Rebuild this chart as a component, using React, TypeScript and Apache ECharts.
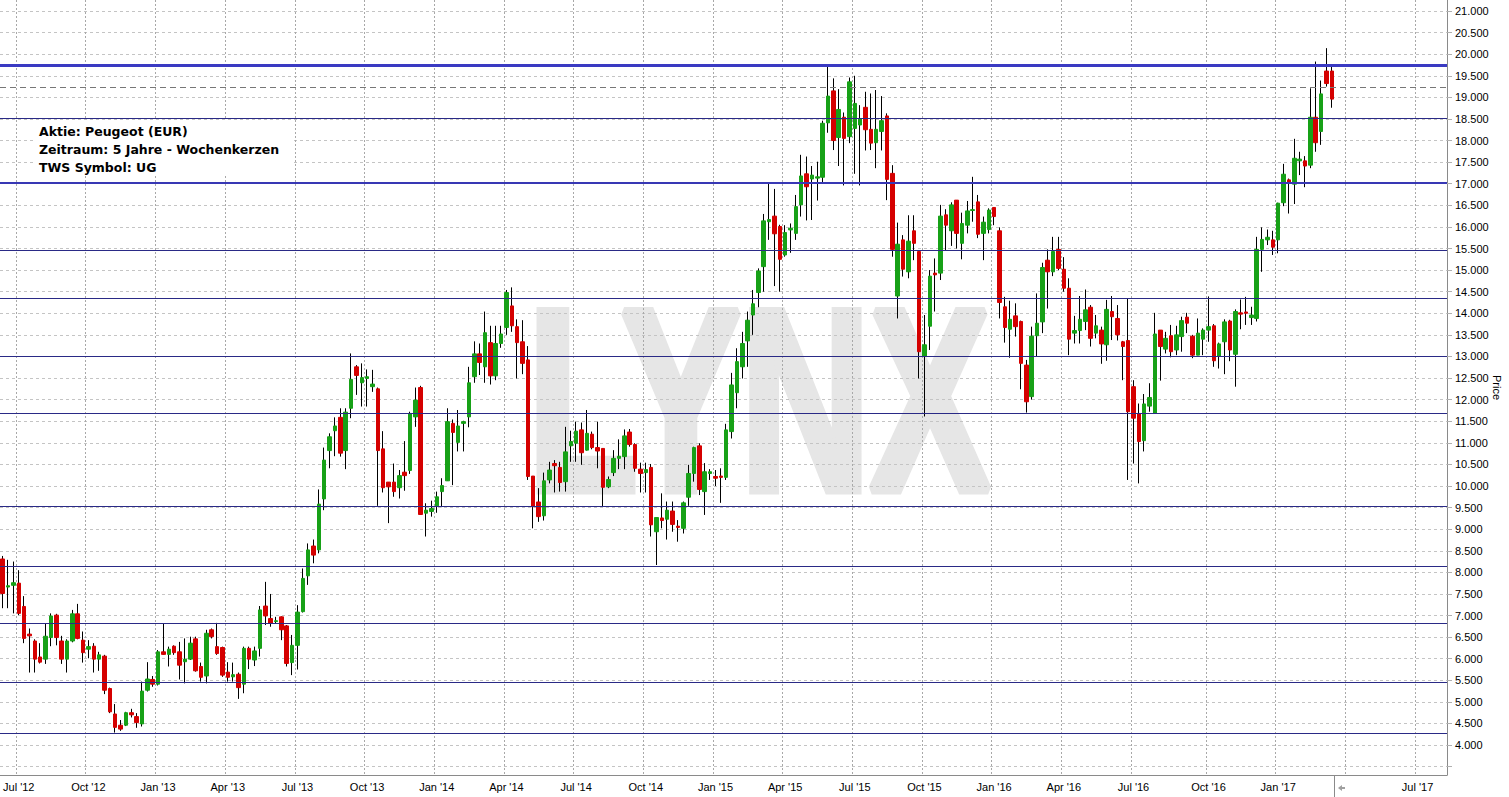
import React, { useEffect, useRef } from 'react';
import * as echarts from 'echarts';

// Weekly candles, each [open, close, low, high]; first week ends Fri 2012-06-15
const FIRST_WEEK = { y: 2012, m: 5, d: 15 };
const WEEKS_ON_AXIS = 270;

const ohlc2012 = [
  [8.31, 7.51, 7.17, 8.38], [7.66, 7.69, 7.17, 8.29], [7.70, 7.76, 7.05, 8.25], [7.75, 7.05, 7.01, 8.05],
  [7.21, 6.47, 6.36, 7.45], [6.57, 6.53, 5.68, 6.70], [6.41, 5.99, 5.68, 6.45], [6.04, 5.92, 5.89, 6.36],
  [5.99, 6.52, 5.88, 6.82], [6.49, 6.99, 6.29, 7.05], [7.01, 6.49, 6.31, 7.04], [6.41, 5.99, 5.88, 6.53],
  [5.99, 6.41, 5.68, 6.45], [6.41, 7.04, 6.38, 7.13], [7.04, 6.47, 6.45, 7.27], [6.43, 6.14, 5.91, 6.63],
  [6.22, 6.28, 6.01, 6.43], [6.29, 5.99, 5.68, 6.36], [5.99, 6.09, 5.72, 6.16], [6.06, 5.27, 5.18, 6.09],
  [5.31, 4.77, 4.74, 5.33], [4.72, 4.41, 4.29, 4.95], [4.46, 4.37, 4.33, 4.58], [4.46, 4.75, 4.44, 4.77],
  [4.75, 4.70, 4.64, 4.84], [4.66, 4.52, 4.40, 4.74], [4.49, 5.25, 4.43, 5.47], [5.27, 5.53, 5.24, 5.92],
  [5.52, 5.41, 5.35, 5.60],
];
const ohlc2013 = [
  [5.41, 6.16, 5.38, 6.20], [6.16, 6.10, 6.09, 6.82], [6.10, 6.22, 5.82, 6.28], [6.29, 6.14, 6.09, 6.31],
  [6.16, 5.85, 5.52, 6.39], [5.93, 5.99, 5.43, 6.47], [5.99, 6.36, 5.97, 6.51], [6.46, 5.72, 5.70, 6.51],
  [5.82, 5.57, 5.47, 5.91], [5.60, 6.59, 5.43, 6.67], [6.67, 6.51, 6.47, 6.70], [6.28, 6.12, 6.09, 6.83],
  [6.26, 5.62, 5.58, 6.28], [5.69, 5.57, 5.47, 5.92], [5.58, 5.63, 5.47, 5.91], [5.64, 5.33, 5.07, 5.68],
  [5.41, 6.24, 5.20, 6.28], [6.24, 5.99, 5.76, 6.28], [5.97, 6.18, 5.83, 6.28], [6.24, 7.13, 6.05, 7.22],
  [7.22, 6.99, 6.78, 7.78], [6.93, 6.82, 6.74, 7.50], [6.86, 6.88, 6.82, 6.97], [6.97, 6.67, 6.43, 6.98],
  [6.76, 5.89, 5.82, 6.78], [5.91, 6.31, 5.62, 6.55], [6.31, 7.08, 5.75, 7.24], [7.09, 7.86, 7.07, 8.09],
  [7.92, 8.52, 7.71, 8.67], [8.61, 8.40, 8.21, 8.76], [8.52, 9.58, 8.44, 9.92], [9.70, 10.60, 9.44, 10.89],
  [10.82, 11.14, 10.41, 11.22], [11.28, 11.39, 10.69, 11.59], [11.59, 10.76, 10.68, 11.80], [10.82, 11.71, 10.39, 11.80],
  [11.80, 12.47, 11.57, 13.07], [12.76, 12.56, 12.11, 12.80], [12.39, 12.51, 11.84, 12.84], [12.49, 12.53, 11.84, 12.70],
  [12.30, 12.36, 12.18, 12.69], [12.25, 10.82, 9.54, 12.28], [10.86, 9.96, 9.85, 11.27], [10.09, 9.98, 9.14, 10.09],
  [10.09, 9.87, 9.75, 10.52], [9.96, 10.24, 9.71, 10.37], [10.32, 10.24, 9.89, 11.04], [10.36, 11.68, 10.28, 11.72],
  [11.60, 11.99, 11.37, 12.28], [12.28, 9.34, 9.33, 12.32], [9.37, 9.44, 8.83, 9.60], [9.41, 9.48, 9.29, 9.66],
];
const ohlc2014 = [
  [9.54, 9.75, 9.38, 9.87], [9.87, 10.01, 9.51, 10.18], [10.12, 11.49, 10.12, 11.80], [11.45, 11.24, 10.02, 11.54],
  [11.01, 11.39, 10.80, 11.76], [11.45, 11.49, 10.80, 11.51], [11.60, 12.39, 11.36, 12.76], [12.53, 13.06, 12.39, 13.35],
  [13.06, 12.86, 12.57, 13.30], [12.76, 13.55, 12.39, 14.04], [13.32, 12.55, 12.35, 13.71], [12.55, 13.30, 12.45, 13.71],
  [13.30, 13.52, 13.20, 13.71], [13.67, 14.48, 13.50, 14.54], [14.17, 13.71, 13.57, 14.60], [13.69, 13.32, 12.49, 13.86],
  [13.34, 12.84, 12.59, 13.84], [12.92, 10.22, 10.14, 13.24], [10.23, 9.52, 9.02, 10.23], [9.63, 9.29, 9.17, 9.95],
  [9.31, 10.12, 9.20, 10.31], [10.14, 10.37, 10.06, 10.56], [10.52, 10.47, 9.85, 10.60], [10.43, 10.08, 9.87, 10.56],
  [10.10, 10.79, 9.87, 11.37], [10.93, 11.03, 10.56, 11.28], [10.99, 11.27, 10.56, 11.49], [11.30, 10.77, 10.49, 11.47],
  [10.83, 11.22, 10.82, 11.76], [11.20, 10.89, 10.85, 11.26], [10.89, 10.81, 10.41, 11.49], [10.87, 9.97, 9.52, 10.87],
  [9.98, 10.15, 9.95, 10.22], [10.31, 10.64, 10.23, 10.83], [10.64, 10.69, 10.39, 11.08], [10.68, 11.16, 10.39, 11.31],
  [11.25, 10.96, 10.91, 11.32], [10.96, 10.41, 10.33, 10.99], [10.39, 10.29, 9.85, 10.54], [10.31, 10.38, 9.85, 10.54],
  [10.43, 9.10, 8.83, 10.51], [8.94, 9.27, 8.17, 9.27], [9.26, 9.20, 9.02, 9.83], [9.23, 9.44, 8.76, 9.64],
  [9.42, 9.11, 8.94, 9.64], [9.07, 9.04, 8.71, 9.21], [9.02, 9.61, 8.90, 9.64], [9.74, 10.29, 9.54, 10.49],
  [10.29, 10.89, 10.10, 10.91], [10.93, 9.92, 9.79, 10.99], [9.87, 10.33, 9.33, 10.53], [10.29, 10.33, 10.14, 10.39],
];
const ohlc2015 = [
  [10.22, 10.18, 10.00, 10.37], [10.23, 10.20, 9.61, 10.41], [10.20, 11.30, 10.14, 11.44], [11.26, 12.34, 11.10, 12.62],
  [12.16, 12.88, 11.80, 13.19], [12.76, 13.30, 12.49, 13.57], [13.36, 13.84, 12.76, 14.04], [13.96, 14.22, 13.50, 14.54],
  [14.48, 14.98, 14.14, 15.04], [15.08, 16.14, 14.50, 16.30], [16.12, 16.17, 15.70, 17.01], [16.25, 15.84, 14.63, 16.88],
  [16.01, 15.25, 14.50, 16.05], [15.35, 15.87, 15.31, 16.04], [15.93, 15.97, 15.40, 16.08], [15.85, 16.47, 15.70, 16.74],
  [16.51, 17.18, 16.24, 17.67], [17.23, 16.93, 16.15, 17.63], [17.11, 17.20, 16.16, 17.41], [17.13, 17.16, 16.61, 17.51],
  [17.15, 18.40, 17.03, 18.46], [18.41, 19.03, 18.18, 19.73], [19.15, 18.00, 17.78, 19.44], [18.07, 18.72, 17.41, 19.19],
  [18.54, 18.05, 16.96, 18.65], [18.09, 19.36, 17.94, 19.46], [18.28, 18.86, 17.23, 19.50], [18.36, 18.51, 16.96, 18.82],
  [18.77, 18.25, 17.77, 19.13], [18.26, 17.94, 17.78, 19.09], [17.95, 18.26, 17.36, 19.17], [18.21, 18.46, 17.77, 19.03],
  [18.57, 17.10, 16.62, 18.63], [17.24, 15.48, 15.31, 17.43], [14.40, 15.60, 13.88, 16.10], [15.70, 15.02, 14.85, 15.81],
  [14.96, 15.67, 14.81, 16.27], [15.91, 15.62, 15.23, 16.27], [15.43, 13.11, 12.49, 15.46], [13.01, 13.27, 11.61, 13.96],
  [13.70, 14.86, 13.15, 15.00], [14.93, 14.89, 14.04, 15.27], [14.93, 16.25, 14.77, 16.51], [16.28, 16.04, 15.46, 16.41],
  [15.91, 16.51, 15.56, 16.57], [16.62, 15.85, 15.50, 16.62], [15.62, 16.08, 15.25, 16.33], [16.04, 16.37, 15.85, 16.60],
  [16.38, 16.40, 16.12, 17.16], [16.58, 15.83, 15.74, 16.74], [15.85, 16.11, 15.23, 16.24], [15.94, 16.39, 15.85, 16.43],
];
const ohlc2016 = [
  [16.45, 16.24, 16.04, 16.45], [15.91, 14.25, 13.88, 15.99], [14.15, 13.67, 13.32, 14.38], [13.63, 13.86, 12.97, 14.29],
  [13.94, 13.69, 13.46, 14.23], [13.81, 12.84, 12.24, 13.83], [12.80, 11.95, 11.70, 12.92], [12.07, 13.47, 12.00, 13.69],
  [13.48, 13.77, 13.01, 14.46], [13.80, 15.06, 13.54, 15.17], [15.23, 14.96, 14.11, 15.48], [14.96, 15.43, 14.86, 15.77],
  [15.48, 15.04, 15.00, 15.77], [15.02, 14.58, 14.50, 15.30], [14.58, 13.40, 13.03, 14.81], [13.54, 13.60, 13.30, 13.94],
  [13.60, 13.86, 13.30, 14.40], [13.81, 14.08, 13.61, 14.55], [14.14, 13.42, 13.23, 14.19], [13.54, 13.71, 13.42, 13.96],
  [13.61, 13.29, 12.83, 13.69], [13.27, 14.09, 12.90, 14.31], [14.04, 13.92, 13.38, 14.40], [13.88, 13.50, 13.37, 14.19],
  [13.34, 13.23, 12.45, 13.36], [13.37, 11.72, 10.14, 14.35], [12.30, 11.57, 10.52, 12.45], [11.68, 11.03, 10.06, 11.91],
  [11.05, 11.90, 10.80, 12.13], [11.85, 12.05, 11.72, 12.38], [11.68, 13.52, 11.68, 14.01], [13.61, 13.23, 12.44, 13.61],
  [13.17, 13.42, 13.07, 13.57], [13.48, 13.11, 12.98, 13.73], [13.15, 13.50, 13.03, 13.71], [13.46, 13.83, 13.11, 13.92],
  [13.91, 13.77, 13.54, 14.01], [13.47, 13.03, 12.96, 13.50], [13.03, 13.54, 13.03, 13.88], [13.40, 13.61, 13.03, 13.65],
  [13.61, 13.69, 13.34, 14.39], [13.71, 12.90, 12.76, 13.75], [13.00, 13.29, 12.72, 13.32], [13.34, 13.80, 12.59, 13.86],
  [13.82, 13.15, 12.89, 13.85], [13.05, 14.04, 12.30, 14.09], [14.01, 13.98, 13.63, 14.32], [14.03, 14.00, 13.73, 14.38],
  [13.90, 13.96, 13.73, 14.15], [13.88, 15.48, 13.81, 15.77], [15.48, 15.71, 14.96, 15.99], [15.70, 15.76, 15.58, 15.94],
  [15.70, 15.53, 15.35, 15.91],
];
const ohlc2017 = [
  [15.70, 16.55, 15.39, 16.56], [16.56, 17.22, 16.48, 17.46], [17.09, 17.03, 16.31, 17.12], [16.99, 17.59, 16.53, 18.04],
  [17.53, 17.57, 17.20, 17.74], [17.53, 17.41, 16.92, 17.64], [17.43, 18.54, 17.36, 19.21], [18.54, 17.95, 17.74, 19.83],
  [18.21, 19.08, 17.90, 19.39], [19.61, 19.32, 19.25, 20.14], [19.61, 18.96, 18.76, 19.75],
];

// Horizontal drawn levels
const resistanceLevel = 19.75;
const currentPriceLevel = 19.23;
const strongLevels = [17.03];
const levels = [18.52, 15.47, 14.35, 13.01, 11.69, 9.54, 8.15, 6.83, 5.46, 4.28];

// Price axis
const Y_MIN = 3.307;
const Y_MAX = 21.255;
const yTickValues = [3.5, 4, 4.5, 5, 5.5, 6, 6.5, 7, 7.5, 8, 8.5, 9, 9.5, 10, 10.5, 11, 11.5, 12, 12.5, 13,
  13.5, 14, 14.5, 15, 15.5, 16, 16.5, 17, 17.5, 18, 18.5, 19, 19.5, 20, 20.5, 21];
const yLabelValues = [4, 4.5, 5, 5.5, 6, 6.5, 7, 7.5, 8, 8.5, 9, 9.5, 10, 10.5, 11, 11.5, 12, 12.5, 13,
  13.5, 14, 14.5, 15, 15.5, 16, 16.5, 17, 17.5, 18, 18.5, 19, 19.5, 20, 20.5, 21];

const MONTHS = ['Jan', 'Feb', 'Mar', 'Apr', 'May', 'Jun', 'Jul', 'Aug', 'Sep', 'Oct', 'Nov', 'Dec'];
const hiddenQuarterLabels = ['2017-04-07'];

const infoLines = ['Aktie: Peugeot (EUR)', 'Zeitraum: 5 Jahre - Wochenkerzen', 'TWS Symbol: UG'];

function buildCategories(): string[] {
  const out: string[] = [];
  for (let i = 0; i < WEEKS_ON_AXIS; i++) {
    const d = new Date(Date.UTC(FIRST_WEEK.y, FIRST_WEEK.m, FIRST_WEEK.d + 7 * i));
    out.push(d.toISOString().slice(0, 10));
  }
  return out;
}

function isQuarterStart(v: string): boolean {
  const m = +v.slice(5, 7);
  const d = +v.slice(8, 10);
  return d <= 7 && (m - 1) % 3 === 0;
}

export default function App() {
  const ref = useRef<HTMLDivElement>(null);

  useEffect(() => {
    document.body.style.margin = '0';
    if (!ref.current) return;
    const chart = echarts.init(ref.current, null, { renderer: 'svg' });

    const ohlc = [...ohlc2012, ...ohlc2013, ...ohlc2014, ...ohlc2015, ...ohlc2016, ...ohlc2017];
    const bodies = ohlc.map(([o, c]) => [o, c, Math.min(o, c), Math.max(o, c)]);
    const categories = buildCategories();

    const thinStyle = { color: '#2a2a86', width: 1, type: 'solid' };
    const markData: any[] = [
      ...levels.map((v) => ({ yAxis: v, lineStyle: thinStyle })),
      ...strongLevels.map((v) => ({ yAxis: v, lineStyle: { color: '#3838b4', width: 2, type: 'solid' } })),
      { yAxis: resistanceLevel, lineStyle: { color: '#3a3ac2', width: 3, type: 'solid' } },
      { yAxis: currentPriceLevel, lineStyle: { color: '#777', width: 1, type: [6, 4] } },
    ];

    const font = '"Liberation Sans", Arial, sans-serif';
    const boldFont = '"DejaVu Sans", Verdana, sans-serif';

    chart.setOption({
      animation: false,
      backgroundColor: '#ffffff',
      grid: { left: 0, right: 62, top: 0, bottom: 22, containLabel: false, outerBoundsMode: 'none' },
      xAxis: {
        type: 'category',
        data: categories,
        boundaryGap: true,
        axisLine: { show: true, lineStyle: { color: '#8a8a8a', width: 1 } },
        axisTick: { show: false },
        axisLabel: {
          interval: (_i: number, v: string) => isQuarterStart(v) && !hiddenQuarterLabels.includes(v),
          formatter: (v: string) => MONTHS[+v.slice(5, 7) - 1] + " '" + v.slice(2, 4),
          color: '#000',
          fontSize: 11,
          fontFamily: font,
          margin: 6,
          hideOverlap: false,
        },
        splitLine: {
          show: true,
          interval: (_i: number, v: string) => isQuarterStart(v),
          lineStyle: { color: '#a8a8a8', width: 1, type: [2, 2] },
        },
      },
      yAxis: {
        type: 'value',
        position: 'right',
        min: Y_MIN,
        max: Y_MAX,
        scale: true,
        name: 'Price',
        nameLocation: 'middle',
        nameRotate: -90,
        nameGap: 44,
        nameMoveOverlap: false,
        nameTextStyle: { color: '#000', fontSize: 11, fontFamily: font },
        axisLine: { show: true, lineStyle: { color: '#8a8a8a', width: 1 } },
        axisTick: { show: true, length: 5, customValues: yTickValues, lineStyle: { color: '#b0b0b0' } },
        axisLabel: {
          customValues: yLabelValues,
          formatter: (v: number) => v.toFixed(3),
          color: '#000',
          fontSize: 11,
          fontFamily: font,
          margin: 8,
        },
        splitLine: { show: true, lineStyle: { color: '#c4c4c4', width: 1, type: [3, 3] } },
      },
      series: [
        {
          name: 'wicks',
          type: 'candlestick',
          data: ohlc,
          barWidth: 1,
          itemStyle: { color: '#000', color0: '#000', borderColor: '#000', borderColor0: '#000', borderWidth: 1 },
          silent: true,
          z: 3,
        },
        {
          name: 'bodies',
          type: 'candlestick',
          data: bodies,
          barWidth: 4,
          itemStyle: {
            color: '#17a117', color0: '#d50000',
            borderColor: '#17a117', borderColor0: '#d50000', borderWidth: 1,
          },
          silent: true,
          z: 4,
          markLine: {
            silent: true,
            symbol: ['none', 'none'],
            label: { show: false },
            emphasis: { disabled: true },
            data: markData,
          },
        },
      ],
      graphic: [
        {
          type: 'text', x: 528, y: 400, scaleX: 0.695, z: -1, silent: true,
          style: {
            text: 'LYNX', font: 'bold 258px ' + font, fill: '#e6e6e6',
            stroke: '#e6e6e6', lineWidth: 10,
            align: 'left', verticalAlign: 'middle',
          },
        },
        {
          type: 'rect', z: 50, silent: true,
          shape: { x: 33, y: 120, width: 258, height: 55 },
          style: { fill: '#ffffff' },
        },
        ...infoLines.map((t, i) => ({
          type: 'text', x: 39, y: 131 + i * 18, z: 51, silent: true,
          style: { text: t, font: 'bold 12.5px ' + boldFont, fill: '#000', align: 'left', verticalAlign: 'middle' },
        })),
        {
          type: 'line', silent: true,
          shape: { x1: 1334.5, y1: 775, x2: 1334.5, y2: 797 },
          style: { stroke: '#8a8a8a', lineWidth: 1 },
        },
        {
          type: 'polygon', silent: true,
          shape: { points: [[1338, 788], [1342, 785], [1342, 791]] },
          style: { fill: '#a0a0a0' },
        },
        {
          type: 'line', silent: true,
          shape: { x1: 1341, y1: 788, x2: 1345, y2: 788 },
          style: { stroke: '#a0a0a0', lineWidth: 2 },
        },
      ],
    });

    return () => chart.dispose();
  }, []);

  return (
    <div
      ref={ref}
      style={{ position: 'fixed', left: 0, top: 0, width: 1509, height: 797, background: '#fff' }}
    />
  );
}
